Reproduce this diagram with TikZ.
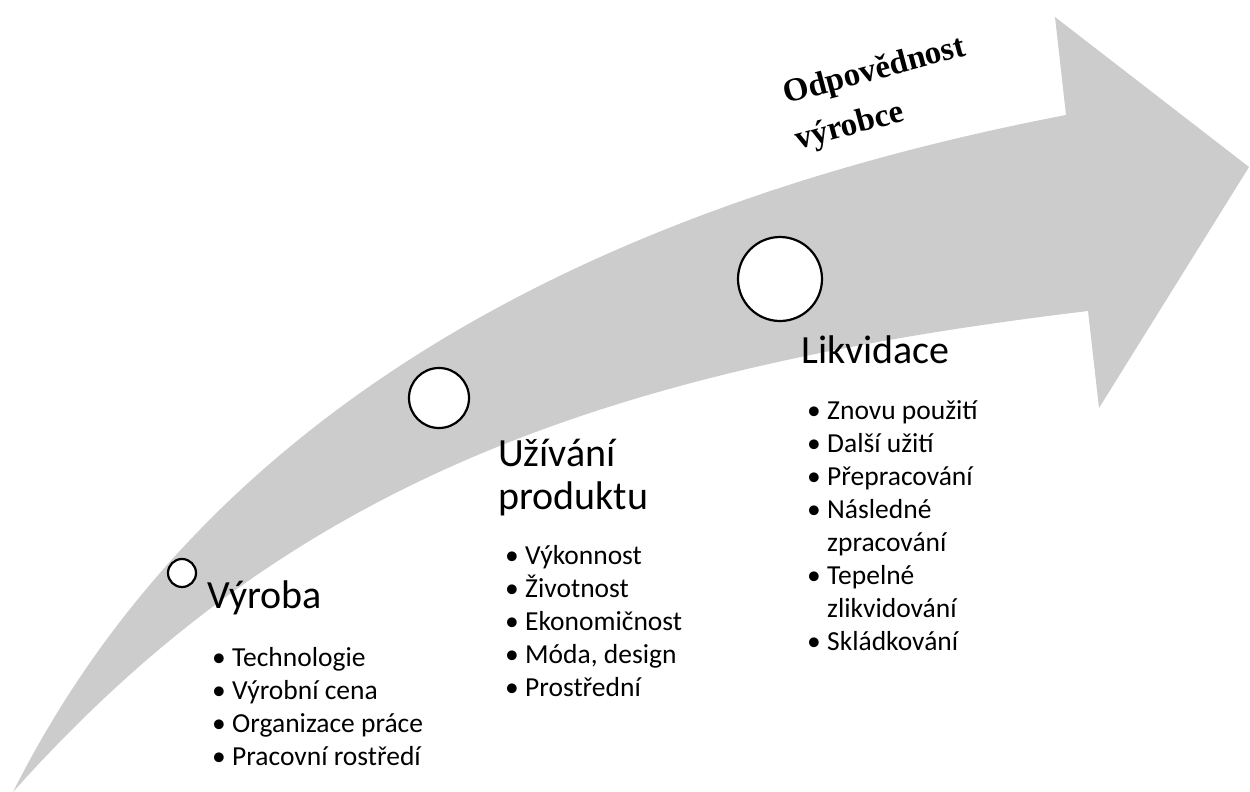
\documentclass[tikz,border=0pt]{standalone}
\usepackage{fontspec}
\setmainfont{Carlito}
\newfontfamily\serifbold{Liberation Serif}
\begin{document}
\begin{tikzpicture}[x=1pt,y=-1pt,
  stage/.style={draw=black,line width=2.2pt,fill=white,circle,inner sep=0pt},
  heading/.style={anchor=base west,inner sep=0pt,font=\fontsize{40}{43}\selectfont},
  items/.style={anchor=base west,inner sep=0pt,font=\fontsize{27.5}{33}\selectfont},
  bandfill/.style={fill=black!20}]
\useasboundingbox (0,0) rectangle (1250,792);
% big curved arrow
\fill[bandfill] (13,792) .. controls (190,440) and (545,215) .. (1066,115)
  -- (1055,17) -- (1249,167) -- (1099,408) -- (1088,311)
  .. controls (588,371) and (283,490) .. (13,792) -- cycle;
% stage circles
\node[stage,minimum size=28pt] (c1) at (182,573) {};
\node[stage,minimum size=60pt] (c2) at (439,398) {};
\node[stage,minimum size=84pt] (c3) at (780,279) {};
% labels
\newcommand{\bul}{\makebox[20pt][l]{•}}
\newcommand{\ind}{\hspace*{20pt}}
\node[heading] (h1) at (207,608) {Výroba};
\node[items] (l1) at (212,666) {\begin{tabular}[t]{@{}l@{}}\bul Technologie\\\bul Výrobní cena\\\bul Organizace práce\\\bul Pracovní rostředí\end{tabular}};
\node[heading] (h2) at (498,466) {\begin{tabular}[t]{@{}l@{}}Užívání\\produktu\end{tabular}};
\node[items] (l2) at (505,564) {\begin{tabular}[t]{@{}l@{}}\bul Výkonnost\\\bul Životnost\\\bul Ekonomičnost\\\bul Móda, design\\\bul Prostřední\end{tabular}};
\node[heading] (h3) at (801,363) {Likvidace};
\node[items] (l3) at (807,419) {\begin{tabular}[t]{@{}l@{}}\bul Znovu použití\\\bul Další užití\\\bul Přepracování\\\bul Následné\\\ind zpracování\\\bul Tepelné\\\ind zlikvidování\\\bul Skládkování\end{tabular}};
\node[anchor=base west,inner sep=0pt,rotate=15,font=\serifbold\bfseries\fontsize{33}{47}\selectfont] (resp) at (786,104) {\begin{tabular}[t]{@{}l@{}}Odpovědnost\\výrobce\end{tabular}};
\end{tikzpicture}
\end{document}
